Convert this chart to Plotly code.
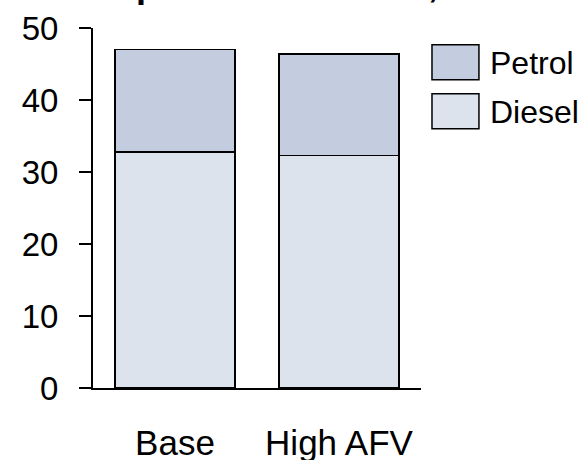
import plotly.graph_objects as go

# ---- data ----
scenarios = ["Base", "High AFV"]
diesel = [32.8, 32.3]
petrol = [14.2, 14.1]
series_names = ["Petrol", "Diesel"]
y_ticks = [0, 10, 20, 30, 40, 50]
title_text = "Transport fuel demand, ML"

# ---- style ----
FONT = "Arial, Liberation Sans, sans-serif"
C_PETROL = "#c3cddf"
C_DIESEL = "#dde3ed"
W, H = 580, 460
L, R, T, B = 92.7, 421.0, 28.3, 387.7  # plot area in pixels


def px_x(p):
    return (p - L) / (R - L)


def px_y(p):
    return (B - p) / (B - T)


fig = go.Figure()
fig.add_trace(go.Bar(x=scenarios, y=diesel, name="Diesel", width=0.735,
                     marker=dict(color=C_DIESEL, line=dict(color="black", width=1.6)),
                     showlegend=False))
fig.add_trace(go.Bar(x=scenarios, y=petrol, name="Petrol", width=0.735,
                     marker=dict(color=C_PETROL, line=dict(color="black", width=1.6)),
                     showlegend=False))

# manual legend (large swatches)
legend_colors = {"Petrol": C_PETROL, "Diesel": C_DIESEL}
for i, name in enumerate(series_names):
    y0 = 45 + i * 49
    fig.add_shape(type="rect", xref="paper", yref="paper",
                  x0=px_x(432), x1=px_x(479), y0=px_y(y0 + 35), y1=px_y(y0),
                  fillcolor=legend_colors[name], line=dict(color="black", width=1.5))
    fig.add_annotation(text=name, xref="paper", yref="paper",
                       x=px_x(488), y=px_y(y0 + 18.5), xanchor="left", yanchor="middle",
                       showarrow=False, font=dict(family=FONT, size=32, color="black"))

# title (mostly cut off at the top of the picture)
fig.add_annotation(text="<b>" + title_text + "</b>", xref="paper", yref="paper",
                   x=px_x(38), y=1, xanchor="left", yanchor="middle", yshift=44,
                   showarrow=False, font=dict(family=FONT, size=36, color="black"))

fig.update_layout(
    width=W, height=H,
    margin=dict(l=L, r=W - R, t=T, b=H - B, pad=0, autoexpand=False),
    barmode="stack",
    plot_bgcolor="white", paper_bgcolor="white",
    font=dict(family=FONT, size=32, color="black"),
    xaxis=dict(range=[-0.5, 1.5], showline=True, linecolor="black", linewidth=2,
               ticks="", showgrid=False, zeroline=False, automargin=False,
               tickfont=dict(size=35), ticklabelstandoff=23),
    yaxis=dict(range=[0, 50], tickvals=y_ticks, showline=True, linecolor="black",
               linewidth=2, ticks="outside", ticklen=12, tickwidth=2, tickcolor="black",
               showgrid=False, zeroline=False, automargin=False,
               tickfont=dict(size=33), ticklabelstandoff=14),
)

fig.write_html("out.html")
